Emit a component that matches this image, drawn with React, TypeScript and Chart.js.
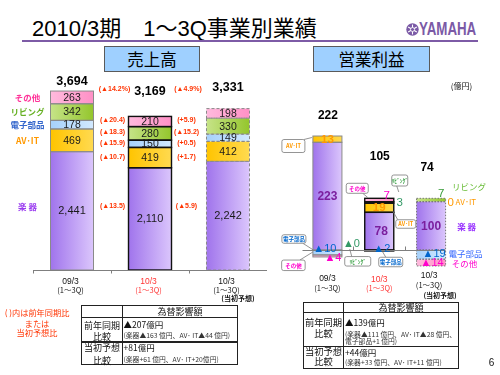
import React, { useEffect, useRef } from 'react';
import { Chart, registerables } from 'chart.js';

Chart.register(...registerables);

// ---------------- data ----------------
const periods = ['09/3', '10/3', '10/3'];
const periodSub = ['(1～3Q)', '(1～3Q)', '(1～3Q)'];
const planNote = '(当初予想)';
const segmentNames = ['楽 器', 'AV･IT', '電子部品', 'リビング', 'その他'];

// 売上高 (億円) — bottom-up: 楽器, AV-IT, 電子部品, リビング, その他
const salesGakki = [2441, 2110, 2242];
const salesAvIt = [469, 419, 412];
const salesDenshi = [178, 150, 149];
const salesLiving = [342, 280, 330];
const salesOther = [263, 210, 198];
const salesTotal = [3694, 3169, 3331];
const salesVsPrev = ['(▲13.5)', '(▲10.7)', '(▲15.9)', '(▲18.3)', '(▲20.4)'];
const salesVsPlan = ['(▲5.9)', '(+1.7)', '(+0.5)', '(▲15.2)', '(+5.9)'];
const salesTotalVs = ['(▲14.2%)', '(▲4.9%)'];

// 営業利益 (億円)
const opGakki = [223, 78, 100];
const opAvIt = [13, 19, 0];
const opDenshi = [-10, -2, -19];
const opLiving = [-0.4, 3, 7];
const opOther = [-4, 7, -14];
const opTotal = [222, 105, 74];

// ---------------- styling ----------------
const LAT = '"Liberation Sans", "Noto Sans CJK JP", sans-serif';
const JP = '"Noto Sans CJK JP", sans-serif';
const FILLS = [
  ['#a074ec', '#dbc6fc'],
  ['#ffc400', '#ffda50'],
  ['#a6d1fb', '#d2e9ff'],
  ['#c6e388', '#94c62c'],
  ['#ffbadd', '#ff90c6'],
];
const NAME_COLORS = ['#9a3cf0', '#ff9900', '#3366cc', '#66b022', '#ff3399'];
const RED = '#ff3300';

function gradFill(stops: string[], pct: number) {
  return (c: any) => {
    const chart = c.chart;
    const xs = chart.scales && chart.scales.x;
    if (!xs || c.type !== 'data') return stops[0];
    const n = chart.data.labels.length;
    const cw = (xs.right - xs.left) / n;
    const cx = xs.getPixelForValue(c.dataIndex);
    if (!isFinite(cx) || !isFinite(cw)) return stops[0];
    const w = cw * pct;
    const g = chart.ctx.createLinearGradient(cx - w / 2, 0, cx + w / 2, 0);
    g.addColorStop(0, stops[0]);
    g.addColorStop(1, stops[1]);
    return g;
  };
}

function seg(chart: any, k: number, i: number) {
  const el = chart.getDatasetMeta(k).data[i];
  const p = el.getProps(['x', 'y', 'base', 'width'], true);
  const top = Math.min(p.y, p.base);
  const bottom = Math.max(p.y, p.base);
  return { cx: p.x, cy: (top + bottom) / 2, top, bottom, left: p.x - p.width / 2, right: p.x + p.width / 2, h: bottom - top, y: p.y };
}

function put(ctx: any, s: string, x: number, y: number, size: number, color: string, o: any = {}) {
  ctx.font = `${o.bold ? 'bold ' : ''}${size}px ${o.font || LAT}`;
  ctx.fillStyle = color;
  ctx.textAlign = o.align || 'center';
  ctx.textBaseline = 'middle';
  ctx.fillText(s, x, y);
}

const fmtComma = (v: number) => v.toLocaleString('en-US');
const fmtOp = (v: number) => (v < 0 ? '▲' + Math.round(Math.abs(v)) : String(Math.round(v)));

function outlines(chart: any, styles: any[]) {
  const ctx = chart.ctx;
  const n = chart.data.datasets.length;
  for (let i = 0; i < chart.data.labels.length; i++) {
    const st = styles[i];
    ctx.strokeStyle = st.color;
    ctx.lineWidth = st.width;
    ctx.setLineDash(st.dash);
    for (let k = 0; k < n; k++) {
      const g = seg(chart, k, i);
      if (g.h < 0.6) continue;
      ctx.strokeRect(g.left, g.top, g.right - g.left, g.h);
    }
  }
  ctx.setLineDash([]);
}

function callout(ctx: any, cx: number, cy: number, w: number, h: number, text: string, color: string, lx1: number, ly1: number, lx2: number, ly2: number) {
  ctx.strokeStyle = '#7a7a7a';
  ctx.lineWidth = 0.8;
  ctx.beginPath();
  ctx.moveTo(lx1, ly1);
  ctx.lineTo(lx2, ly2);
  ctx.stroke();
  const x = cx - w / 2, y = cy - h / 2, r = 2;
  ctx.beginPath();
  ctx.moveTo(x + r, y);
  ctx.lineTo(x + w - r, y);
  ctx.quadraticCurveTo(x + w, y, x + w, y + r);
  ctx.lineTo(x + w, y + h - r);
  ctx.quadraticCurveTo(x + w, y + h, x + w - r, y + h);
  ctx.lineTo(x + r, y + h);
  ctx.quadraticCurveTo(x, y + h, x, y + h - r);
  ctx.lineTo(x, y + r);
  ctx.quadraticCurveTo(x, y, x + r, y);
  ctx.closePath();
  ctx.fillStyle = '#ffffff';
  ctx.fill();
  ctx.stroke();
  put(ctx, text, cx, cy + 0.3, 5.5, color, { bold: true, font: JP });
}

// ---------------- 売上高 chart ----------------
const salesPlugin = {
  id: 'salesDeco',
  afterDatasetsDraw(chart: any) {
    const ctx = chart.ctx;
    const xs = chart.scales.x, ys = chart.scales.y;
    const y0 = ys.getPixelForValue(0);
    ctx.save();
    outlines(chart, [
      { color: '#8a8a8a', width: 1, dash: [] },
      { color: '#111111', width: 1.4, dash: [] },
      { color: '#8a8a8a', width: 1, dash: [3, 2] },
    ]);
    // axis
    const cw = (xs.right - xs.left) / 3;
    ctx.strokeStyle = '#7f7f7f';
    ctx.lineWidth = 1;
    ctx.beginPath();
    ctx.moveTo(xs.left, y0 + 0.5);
    ctx.lineTo(xs.right, y0 + 0.5);
    for (let j = 0; j < 3; j++) {
      const x = Math.round(xs.left + j * cw) + 0.5;
      ctx.moveTo(x, y0);
      ctx.lineTo(x, y0 + 3.5);
    }
    ctx.stroke();

    const series = [salesGakki, salesAvIt, salesDenshi, salesLiving, salesOther];
    // values inside segments
    for (let i = 0; i < 3; i++) {
      for (let k = 0; k < 5; k++) {
        const g = seg(chart, k, i);
        put(ctx, fmtComma(series[k][i]), g.cx, g.cy + 0.5, k === 0 ? 11 : 10.5, '#1a1a1a');
      }
    }
    // totals
    const totOff = [9.7, 24.4, 20.6];
    for (let i = 0; i < 3; i++) {
      const g = seg(chart, 4, i);
      put(ctx, fmtComma(salesTotal[i]), g.cx, g.top - totOff[i], 12.5, '#000', { bold: true });
    }
    // segment names and change ratios
    const b1 = seg(chart, 0, 0);
    const b3 = seg(chart, 0, 2);
    for (let k = 0; k < 5; k++) {
      const g1 = seg(chart, k, 0);
      const g2 = seg(chart, k, 1);
      const yName = k === 0 ? g1.cy - 4.5 : g1.cy;
      put(ctx, segmentNames[k], b1.left - 23, yName, 8.5, NAME_COLORS[k], { font: JP, bold: true });
      const yPct = k === 0 ? yName : g2.cy - 1;
      put(ctx, salesVsPrev[k], b1.right + 19, yPct, 7, RED, { bold: true });
      put(ctx, salesVsPlan[k], b3.left - 20, yPct, 7, RED, { bold: true });
    }
    const t1 = seg(chart, 4, 0);
    put(ctx, salesTotalVs[0], b1.right + 21, t1.top - 1.5, 7, RED, { bold: true });
    put(ctx, salesTotalVs[1], b3.left - 18.5, t1.top - 2, 7, RED, { bold: true });
    // category labels
    for (let i = 0; i < 3; i++) {
      const x = xs.getPixelForValue(i) - 1.5;
      const col = i === 1 ? '#ff3333' : '#111';
      put(ctx, periods[i], x, y0 + 11.5, 8.5, col);
      put(ctx, periodSub[i], x, y0 + 20.5, 7.5, col, { font: JP });
    }
    put(ctx, planNote, xs.getPixelForValue(2) + 10, y0 + 28.5, 7, '#111', { font: JP, bold: true });
    ctx.restore();
  },
};

// ---------------- 営業利益 chart ----------------
const opPlugin = {
  id: 'opDeco',
  afterDatasetsDraw(chart: any) {
    const ctx = chart.ctx;
    const xs = chart.scales.x, ys = chart.scales.y;
    const y0 = ys.getPixelForValue(0);
    ctx.save();
    outlines(chart, [
      { color: '#8a8a8a', width: 1, dash: [] },
      { color: '#111111', width: 1.4, dash: [] },
      { color: '#777777', width: 1, dash: [1.5, 1.5] },
    ]);
    const cw = (xs.right - xs.left) / 3;
    const bar3 = seg(chart, 0, 2);
    ctx.strokeStyle = '#7f7f7f';
    ctx.lineWidth = 1;
    ctx.beginPath();
    ctx.moveTo(xs.left + 1, y0 + 0.5);
    ctx.lineTo(bar3.right, y0 + 0.5);
    for (let j = 1; j < 3; j++) {
      const x = Math.round(xs.left + j * cw) + 0.5;
      ctx.moveTo(x, y0);
      ctx.lineTo(x, y0 - 3.5);
    }
    ctx.stroke();

    const b0 = seg(chart, 0, 0);
    const b1 = seg(chart, 0, 1);
    const PURP = '#7b1f9e', OR = '#ff9900', BL = '#0066cc', PK = '#ff00cc', GR = '#339966';

    // callouts (drawn first so numbers sit above pointer lines)
    callout(ctx, b0.left - 19.5, 146, 23, 13, 'AV･IT', OR, b0.left - 9, 139.5, b0.left - 1, 137.5);
    callout(ctx, b1.left - 7.5, 188.3, 22, 10, 'その他', PK, b1.left - 2, 193.3, b1.left + 3, 197.5);
    callout(ctx, b1.right + 6, 180.5, 16, 11, 'ﾘﾋﾞﾝｸﾞ', '#2e9b3a', b1.right + 3, 186, b1.right + 5, 192);
    callout(ctx, b1.right + 12, 224, 20, 8.5, 'AV･IT', OR, b1.right + 4, 219.7, b1.right - 1, 211);
    callout(ctx, b0.left - 19, 239, 24, 8.5, '電子部品', BL, b0.left - 10, 243.3, b0.left + 0.5, y0);
    callout(ctx, b0.left - 19.5, 265.3, 23.5, 10.5, 'その他', PK, b0.left - 13, 260, b0.left, y0 + 2);
    callout(ctx, b1.left - 7, 261.3, 26, 9.5, 'ﾘﾋﾞﾝｸﾞ', '#2e9b3a', b1.left - 13, 256.5, b1.left - 15, y0 - 1);
    callout(ctx, b1.left + 26, 262, 24, 9.5, '電子部品', BL, b1.left + 21, 257.2, b1.left + 18, y0 + 2);

    // 楽器 and AV-IT values inside bars
    for (let i = 0; i < 3; i++) {
      const g = seg(chart, 0, i);
      put(ctx, fmtOp(opGakki[i]), g.cx + (i === 1 ? 2 : 0), g.cy + 1, 12, PURP, { bold: true });
    }
    for (let i = 0; i < 2; i++) {
      const g = seg(chart, 1, i);
      put(ctx, fmtOp(opAvIt[i]), g.cx, g.cy + 0.5, 11.5, OR, { bold: true });
    }
    // 09/3 small segments
    put(ctx, fmtOp(opDenshi[0]), b0.cx - 2.5, y0 - 1, 11, BL);
    put(ctx, fmtOp(opOther[0]), b0.cx + 5.5, y0 + 8, 11, PK);
    put(ctx, fmtOp(opLiving[0]), b0.cx + 24, y0 - 6, 11, GR);
    // 10/3 small segments
    const o1 = seg(chart, 4, 1);
    const l1 = seg(chart, 3, 1);
    put(ctx, fmtOp(opOther[1]), o1.right - 7, o1.top - 2.5, 11.5, PK);
    put(ctx, fmtOp(opLiving[1]), o1.right + 6, l1.cy, 11.5, GR);
    put(ctx, fmtOp(opDenshi[1]), b1.cx + 2.5, y0 - 1.5, 11, BL);
    // 10/3 forecast
    const l2 = seg(chart, 3, 2);
    const a2 = seg(chart, 1, 2);
    const d2 = seg(chart, 2, 2);
    const ot2 = seg(chart, 4, 2);
    put(ctx, fmtOp(opLiving[2]), l2.right - 4.5, l2.top - 4, 11.5, '#339933');
    put(ctx, fmtOp(opAvIt[2]), a2.right + 5, a2.y + 1, 11.5, OR);
    put(ctx, fmtOp(opDenshi[2]), d2.cx + 3, d2.cy - 1, 11, BL);
    put(ctx, fmtOp(opOther[2]), ot2.cx + 1, ot2.cy + 0.5, 11, PK);
    // side names
    const RX = bar3.right + 10;
    put(ctx, segmentNames[3], RX + 13.5, l2.top - 12, 8.5, '#66bb33', { font: JP });
    put(ctx, segmentNames[1], RX, a2.y + 0.5, 8, OR, { font: JP, align: 'left' });
    put(ctx, segmentNames[0], RX + 11, bar3.cy + 1, 8.5, '#9933ff', { font: JP, bold: true });
    put(ctx, segmentNames[2], RX + 10, d2.cy - 1, 8.5, '#3366ff', { font: JP });
    put(ctx, segmentNames[4], RX + 9, ot2.cy + 1.5, 8.5, PK, { font: JP });

    // totals
    const totOff = [20, 42, 31];
    for (let i = 0; i < 3; i++) {
      const tops = [0, 1, 3, 4].map((k) => seg(chart, k, i).top);
      const top = Math.min(...tops);
      put(ctx, String(opTotal[i]), xs.getPixelForValue(i) + (i === 2 ? -4 : 0.5), top - totOff[i], 12, '#000', { bold: true });
    }
    // category labels
    const ly = [y0 + 29, y0 + 29.5, y0 + 26];
    for (let i = 0; i < 3; i++) {
      const x = xs.getPixelForValue(i) + (i === 2 ? -2 : 0);
      const col = i === 1 ? '#ff3333' : '#111';
      put(ctx, periods[i], x, ly[i], 8.5, col);
      put(ctx, periodSub[i], x, ly[i] + 9, 7.5, col, { font: JP });
    }
    put(ctx, planNote, xs.getPixelForValue(2) + 9, y0 + 45.5, 7, '#111', { font: JP, bold: true });
    ctx.restore();
  },
};

function makeChart(canvas: HTMLCanvasElement, series: number[][], pct: number, pad: any, min: number, max: number, plugin: any) {
  return new Chart(canvas, {
    type: 'bar',
    data: {
      labels: periods,
      datasets: series.map((d, k) => ({
        label: segmentNames[k],
        data: d,
        backgroundColor: gradFill(FILLS[k], pct) as any,
        borderWidth: 0,
        categoryPercentage: 1,
        barPercentage: pct,
      })),
    },
    options: {
      animation: false,
      responsive: false,
      maintainAspectRatio: false,
      devicePixelRatio: 1,
      layout: { padding: pad },
      plugins: { legend: { display: false }, tooltip: { enabled: false }, title: { display: false } },
      scales: {
        x: { display: false, stacked: true },
        y: { display: false, stacked: true, min, max },
      },
    },
    plugins: [plugin],
  } as any);
}

function ChartCanvas({ build }: { build: (c: HTMLCanvasElement) => Chart }) {
  const ref = useRef<HTMLCanvasElement>(null);
  useEffect(() => {
    const ch = build(ref.current as HTMLCanvasElement);
    return () => ch.destroy();
  }, []);
  return (
    <canvas
      ref={ref}
      width={500}
      height={375}
      style={{ position: 'absolute', left: 0, top: 0, width: 500, height: 375, pointerEvents: 'none' }}
    />
  );
}

function T({ x, y, size, color = '#111', align = 'center', bold = false, font = JP, children, style }: any) {
  return (
    <div
      style={{
        position: 'absolute',
        left: x,
        top: y,
        transform: align === 'center' ? 'translate(-50%,-50%)' : 'translateY(-50%)',
        whiteSpace: 'nowrap',
        lineHeight: 1,
        fontSize: size,
        color,
        fontWeight: bold ? 700 : 400,
        fontFamily: font,
        ...style,
      }}
    >
      {children}
    </div>
  );
}

function Rect({ x, y, w, h, style }: any) {
  return <div style={{ position: 'absolute', left: x, top: y, width: w, height: h, boxSizing: 'border-box', ...style }} />;
}

function Table({ x, y, w, h, colX, hdrY, rowY, rows }: any) {
  return (
    <>
      <Rect x={x} y={y} w={w} h={h} style={{ border: '1.5px solid #222', background: '#fff' }} />
      <Rect x={x} y={hdrY} w={w} h={1} style={{ background: '#222' }} />
      <Rect x={x} y={rowY} w={w} h={1.5} style={{ background: '#222' }} />
      <Rect x={colX} y={y} w={1} h={h} style={{ background: '#222' }} />
      {rows}
    </>
  );
}

export default function App() {
  const salesSeries = [salesGakki, salesAvIt, salesDenshi, salesLiving, salesOther];
  const opSeries = [opGakki, opAvIt, opDenshi, opLiving, opOther];
  return (
    <div style={{ position: 'fixed', left: 0, top: 0, width: 500, height: 375, background: '#fff', overflow: 'hidden' }}>
      {/* header */}
      <T x={32} y={29} size={22} align="left" font={LAT} color="#000">
        2010/3期　1～3Q事業別業績
      </T>
      <Rect x={22} y={40} w={456} h={1.6} style={{ background: '#7d5ba6' }} />
      <svg style={{ position: 'absolute', left: 406, top: 22.5 }} width={13} height={13} viewBox="0 0 13 13">
        <circle cx={6.5} cy={6.5} r={6.2} fill="#7b5aa6" />
        <g stroke="#fff" strokeWidth={1.1}>
          <line x1={6.5} y1={1.5} x2={6.5} y2={11.5} />
          <line x1={2.2} y1={4} x2={10.8} y2={9} />
          <line x1={2.2} y1={9} x2={10.8} y2={4} />
        </g>
        <circle cx={6.5} cy={6.5} r={2} fill="#7b5aa6" stroke="#fff" strokeWidth={0.8} />
      </svg>
      <T x={419} y={29} size={18} align="left" bold font={LAT} color="#7b5aa6" style={{ transform: 'translateY(-50%) scaleX(0.74)', transformOrigin: 'left center' }}>
        YAMAHA
      </T>

      <Rect x={104} y={46} w={96} h={26} style={{ background: '#9fd0ff', border: '1px solid #5a5a5a' }} />
      <T x={152} y={59} size={16.5} color="#000">売上高</T>
      <Rect x={313} y={46} w={117} h={26} style={{ background: '#9fd0ff', border: '1px solid #5a5a5a' }} />
      <T x={371.5} y={59} size={16.5} color="#000">営業利益</T>

      <ChartCanvas build={(c) => makeChart(c, salesSeries, 0.5513, { left: 33, right: 233, top: 76.16, bottom: 105 }, 0, 4000, salesPlugin)} />
      <ChartCanvas build={(c) => makeChart(c, opSeries, 0.56, { left: 301.5, right: 43, top: 114.76, bottom: 105.68 }, -40, 280, opPlugin)} />

      <T x={461.5} y={86} size={8}>(億円)</T>

      {/* note */}
      <T x={37} y={312} size={8.2} color={RED}>( )内は前年同期比</T>
      <T x={37} y={322.7} size={8.2} color={RED}>または</T>
      <T x={37} y={331.7} size={8.2} color={RED}>当初予想比</T>

      {/* left table */}
      <Table
        x={80.7}
        y={305}
        w={157.6}
        h={60}
        colX={121.5}
        hdrY={316.5}
        rowY={341}
        rows={
          <>
            <T x={180} y={311} size={9}>為替影響額</T>
            <T x={102} y={324.5} size={9}>前年同期</T>
            <T x={102} y={335.5} size={9}>比較</T>
            <T x={123.5} y={323.5} size={8.5} align="left">▲207億円</T>
            <T x={123.5} y={335} size={6.8} align="left" color="#333">(楽器▲163 億円、AV･ IT▲44 億円)</T>
            <T x={102} y={347} size={9}>当初予想</T>
            <T x={102} y={359.5} size={9}>比較</T>
            <T x={123.5} y={346.7} size={8.5} align="left">+81億円</T>
            <T x={123.5} y={359} size={6.8} align="left" color="#333">(楽器+61 億円、AV･ IT+20億円)</T>
          </>
        }
      />

      {/* right table */}
      <Table
        x={303.3}
        y={301.7}
        w={156}
        h={67.6}
        colX={343}
        hdrY={311.5}
        rowY={345.5}
        rows={
          <>
            <T x={401} y={306.7} size={9}>為替影響額</T>
            <T x={323.5} y={323.3} size={9.3}>前年同期</T>
            <T x={323.5} y={334} size={9.3}>比較</T>
            <T x={345} y={321.7} size={8.5} align="left">▲139億円</T>
            <T x={345} y={334.3} size={6.8} align="left" color="#333">(楽器▲111 億円、AV･ IT▲28 億円、</T>
            <T x={345} y={341.3} size={6.8} align="left" color="#333">電子部品+1 億円)</T>
            <T x={323.5} y={351.7} size={9.3}>当初予想</T>
            <T x={323.5} y={362} size={9.3}>比較</T>
            <T x={345} y={351.7} size={8.5} align="left">+44億円</T>
            <T x={345} y={362} size={6.8} align="left" color="#333">(楽器+33 億円、AV･ IT+11 億円)</T>
          </>
        }
      />

      <T x={491.5} y={363} size={10} font={LAT}>6</T>
    </div>
  );
}
